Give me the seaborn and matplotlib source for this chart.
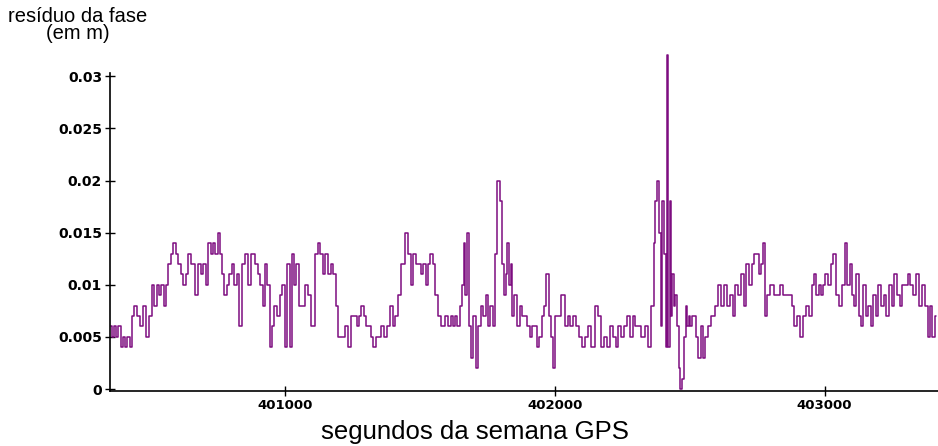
import numpy as np
import pandas as pd
import matplotlib
matplotlib.use("Agg")
import matplotlib.pyplot as plt
import seaborn as sns

# segment boundaries (GPS week seconds)
seg_edges = [
    400355, 400438, 400512, 400574, 400611, 400648, 400685, 400722, 400772, 400809,
    400846, 400895, 400932, 400957, 401006, 401031, 401056, 401117, 401204, 401253,
    401315, 401352, 401426, 401463, 401500, 401562, 401611, 401660, 401685, 401722,
    401784, 401809, 401846, 401895, 401957, 402006, 402043, 402105, 402179, 402241,
    402315, 402364, 402389, 402414, 402438, 402463, 402488, 402512, 402562, 402623,
    402685, 402735, 402784, 402809, 402883, 402957, 403006, 403080, 403130, 403204,
    403302, 403377, 403420,
]

# phase residual inside each segment, in millimetres
seg_values_mm = [
    [6, 5, 6, 5, 6, 4, 5, 4, 5, 4],
    [7, 8, 7, 6, 8, 5, 7],
    [10, 8, 10, 9, 10, 8, 10],
    [12, 13, 14, 13],
    [12, 11, 10, 11],
    [13, 12, 9],
    [12, 11, 12, 10],
    [14, 13, 14, 13, 15, 13],
    [11, 9, 10, 11],
    [12, 10, 11, 6],
    [12, 13, 10, 13],
    [12, 11, 10, 8],
    [12, 10, 4],
    [6, 8, 7, 9, 10],
    [4, 12, 4],
    [13, 10, 12],
    [8, 8, 10, 9, 6],
    [13, 14, 13, 11, 13, 11, 12, 11, 8],
    [5, 5, 6, 4],
    [7, 7, 6, 7, 8, 7, 6],
    [6, 5, 4, 5],
    [5, 6, 5, 6, 8, 6, 7],
    [9, 12, 15],
    [13, 10, 13, 12],
    [12, 11, 12, 10, 12, 13, 12],
    [9, 7, 6, 7],
    [6, 7, 6, 7, 6, 8],
    [10, 14, 9, 15],
    [6, 3, 7, 2],
    [6, 8, 7, 9, 6, 8, 6],
    [13, 20, 18],
    [12, 9, 11, 14, 10, 12],
    [7, 9, 6, 8, 7],
    [7, 6, 5, 6, 6, 4, 5],
    [7, 8, 11, 7, 5, 2],
    [7, 7, 9],
    [6, 7, 6, 7, 6, 5],
    [4, 5, 6, 4, 8, 7],
    [4, 5, 4, 6, 5, 4],
    [6, 5, 6, 7, 5, 7, 6],
    [6, 5, 6, 4],
    [8, 14, 18, 20],
    [15, 6, 18, 13],
    [4, 32, 4, 18, 7],
    [11, 8, 9, 6],
    [2, 0, 1, 5],
    [8, 6, 7, 6],
    [7, 7, 5, 3, 6, 3],
    [5, 6, 7, 8, 10],
    [8, 10, 8, 9, 7, 10],
    [9, 11, 8, 12, 10],
    [12, 13, 13, 11, 12, 14],
    [7, 9, 10],
    [10, 9, 9, 10, 9, 9, 9],
    [8, 6, 7, 5, 7, 8, 7],
    [10, 11, 9, 10, 9, 10],
    [11, 10, 12, 13, 9, 8, 10],
    [14, 10, 12, 9, 8, 11],
    [7, 6, 10, 7, 8, 6, 9, 7],
    [10, 8, 9, 7, 10, 8, 11, 9, 8, 10],
    [10, 11, 10, 9, 11, 8, 10],
    [8, 5, 8, 5, 7],
]

x_ticks = [401000, 402000, 403000]
y_ticks = [0, 0.005, 0.01, 0.015, 0.02, 0.025, 0.03]
y_tick_labels = ["0", "0.005", "0.01", "0.015", "0.02", "0.025", "0.03"]

rows = []
for i, vals in enumerate(seg_values_mm):
    ts = np.linspace(seg_edges[i], seg_edges[i + 1], len(vals), endpoint=False)
    for t, v in zip(ts, vals):
        rows.append({"t": t, "res": v / 1000.0})
df = pd.DataFrame(rows)

sns.set_style("white")
plt.rcParams["font.family"] = ["Liberation Sans", "DejaVu Sans"]
plt.rcParams["text.color"] = "black"

fig = plt.figure(figsize=(9.38, 4.46), dpi=100)
ax = fig.add_axes([0.117, 0.123, 0.883, 0.713])

sns.lineplot(data=df, x="t", y="res", ax=ax, color="#7d0d80", linewidth=1.1,
             estimator=None, drawstyle="steps-mid", clip_on=False)

ax.set_xlim(400352, 403420)
ax.set_ylim(-0.0002, 0.0303)
for side in ["top", "right"]:
    ax.spines[side].set_visible(False)
for side in ["left", "bottom"]:
    ax.spines[side].set_color("black")
    ax.spines[side].set_linewidth(1.2)

ax.set_xticks(x_ticks)
ax.set_xticklabels([str(v) for v in x_ticks], fontfamily="DejaVu Sans",
                   fontweight="bold", fontsize=9.5, color="black")
ax.set_yticks(y_ticks)
ax.set_yticklabels(y_tick_labels, fontfamily="DejaVu Sans",
                   fontweight="bold", fontsize=10, color="black")
ax.tick_params(axis="both", bottom=True, left=True, direction="inout",
               length=7, width=1, color="black", pad=2)

ax.set_ylabel("")
ax.set_xlabel("")
fig.text(0.506, 0.005, "segundos da semana GPS", ha="center", va="bottom",
         fontsize=18.5, color="black")
fig.text(0.083, 0.985, "resíduo da fase\n(em m)", ha="center", va="top",
         fontsize=14.5, linespacing=0.9, color="black")

plt.savefig("out.png", dpi=100)
plt.close()
